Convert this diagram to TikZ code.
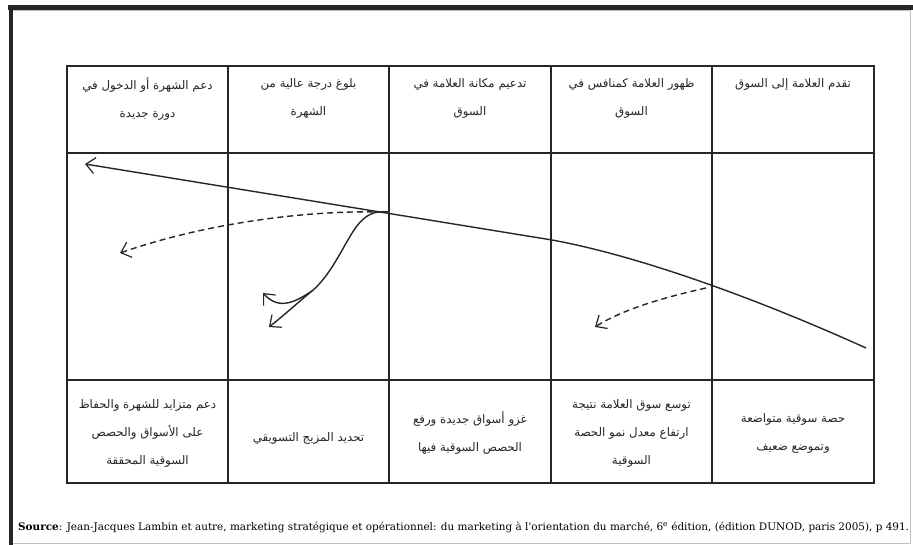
\documentclass[tikz,border=0pt]{standalone}
\usepackage{fontspec}
\usetikzlibrary{arrows.meta}
\TeXXeTstate=1
\newfontfamily\arabicfont[Script=Arabic]{DejaVu Sans}
\newfontfamily\srcfont{DejaVu Serif}
\newcommand{\AR}[1]{\beginR #1\endR}
\begin{document}
\begin{tikzpicture}[x=1pt,y=-1pt,
  gridline/.style={draw=black!85, line width=1.8pt},
  curve/.style={draw=black!85, line width=1.4pt},
  barb/.style={-{Straight Barb[length=9pt,width=16pt,line width=1.2pt]}},
  dashline/.style={dash pattern=on 6pt off 4pt},
  cell/.style={font=\arabicfont\fontsize{11.8}{28}\selectfont, align=center, text=black!85, inner sep=0pt},
  toprow/.style={cell, anchor=north},
  botrow/.style={cell, anchor=center}]
\useasboundingbox (0,0) rectangle (913,545);
\fill[white] (0,0) rectangle (913,545);
% outer frame
\draw[black!25, line width=1pt] (13,11) -- (910,11) -- (910,543) -- (13,543);
\draw[black!85, line width=5pt] (8,7.5) -- (913,7.5);
\draw[black!85, line width=4.5pt] (11,5) -- (11,545);
% table
\draw[gridline] (67,66) rectangle (874,483);
\draw[gridline] (67,153) -- (874,153);
\draw[gridline] (67,380) -- (874,380);
\foreach \x in {228,389,551,712} \draw[gridline] (\x,66) -- (\x,483);
% top row
\node[toprow] (t1) at (147.5,78) {\AR{دعم الشهرة أو الدخول في}\\\AR{دورة جديدة}};
\node[toprow] (t2) at (308.5,78) {\AR{بلوغ درجة عالية من}\\\AR{الشهرة}};
\node[toprow] (t3) at (470,78) {\AR{تدعيم مكانة العلامة في}\\\AR{السوق}};
\node[toprow] (t4) at (631.5,78) {\AR{ظهور العلامة كمنافس في}\\\AR{السوق}};
\node[toprow] (t5) at (793,78) {\AR{تقدم العلامة إلى السوق}};
% bottom row
\node[botrow] (b1) at (147.5,433) {\AR{دعم متزايد للشهرة والحفاظ}\\\AR{على الأسواق والحصص}\\\AR{السوقية المحققة}};
\node[botrow] (b2) at (308.5,438) {\AR{تحديد المزيج التسويقي}};
\node[botrow] (b3) at (470,433) {\AR{غزو أسواق جديدة ورفع}\\\AR{الحصص السوقية فيها}};
\node[botrow] (b4) at (631.5,433) {\AR{توسع سوق العلامة نتيجة}\\\AR{ارتفاع معدل نمو الحصة}\\\AR{السوقية}};
\node[botrow] (b5) at (793,433) {\AR{حصة سوقية متواضعة}\\\AR{وتموضع ضعيف}};
% curves
\coordinate (mStart) at (866,348);
\coordinate (mMid) at (552,240);
\coordinate (mEnd) at (85,164);
\draw[curve, barb] (mStart) .. controls (760,300) and (640,256) .. (mMid) -- (mEnd);
\coordinate (d1s) at (383,212);
\coordinate (d1e) at (120,253);
\draw[curve, dashline, barb] (d1s) .. controls (300,210) and (200,225) .. (d1e);
\coordinate (bs) at (388,212);
\coordinate (bk) at (312,291);
\coordinate (ba) at (263,293);
\coordinate (bb) at (269,327);
\draw[curve] (bs) .. controls (365,209) and (356,226) .. (345,245) .. controls (335,263) and (325,280) .. (bk);
\draw[curve, barb] (bk) .. controls (298,300) and (280,312) .. (ba);
\draw[curve, barb] (bk) .. controls (295,305) and (282,317) .. (bb);
\coordinate (d2s) at (706,288);
\coordinate (d2e) at (595,327);
\draw[curve, dashline, barb] (d2s) .. controls (670,296) and (625,308) .. (d2e);
% source
\node[anchor=west, inner sep=0pt, font=\srcfont\fontsize{10.45}{12}\selectfont] (src) at (18,527)
  {\textbf{Source}: Jean-Jacques Lambin et autre, marketing stratégique et opérationnel: du marketing à l'orientation du marché, 6\textsuperscript{e} édition, (édition DUNOD, paris 2005), p 491.};
\end{tikzpicture}
\end{document}
